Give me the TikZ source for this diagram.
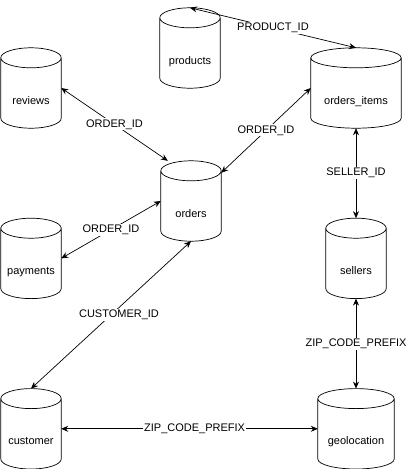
\documentclass[tikz,border=0pt]{standalone}
\usepackage{fontspec}
\setmainfont{Liberation Sans}
\usetikzlibrary{positioning, calc, arrows.meta}

\begin{document}
\begin{tikzpicture}[x=1pt, y=1pt, node distance=90pt,
    db/.style = {minimum width=60pt, minimum height=80pt, inner sep=0pt,
        text height=32pt, text depth=0pt, font=\fontsize{11pt}{13pt}\selectfont},
    link/.style = {{Stealth[length=7pt,width=6pt]}-{Stealth[length=7pt,width=6pt]}, line width=0.7pt},
    key/.style = {fill=white, inner sep=1pt, font=\fontsize{11pt}{13pt}\selectfont}]
    \useasboundingbox (0,0) rectangle (407,-469);
    \node[db] (orders_items) at (356,-88) [minimum width=90pt] {orders\_items};
    \node[db] (sellers) [below=of orders_items] {sellers};
    \node[db] (geolocation) [below=of sellers] [minimum width=76pt] {geolocation};
    \node[db] (reviews) at (31,-88) {reviews};
    \node[db] (payments) [below=of reviews] {payments};
    \node[db] (customer) [below=of payments] {customer};
    \node[db] (orders) at (191,-201) {orders};
    \node[db] (products) at (190,-48) {products};
    % cylinder outlines
    \foreach \nd in {products, orders_items, reviews, orders, payments, sellers, customer, geolocation}
        \draw[line width=0.7pt] let \p1 = (\nd.north west), \p2 = (\nd.south east), \n1 = {(\x2-\x1)/2} in
            (\x1,\y1-10pt) -- (\x1,\y2+10pt) arc[start angle=180, end angle=360, x radius=\n1, y radius=10pt]
            -- (\x2,\y1-10pt) arc[start angle=0, end angle=180, x radius=\n1, y radius=10pt]
            arc[start angle=180, end angle=360, x radius=\n1, y radius=10pt];
    \draw[link] (products.north) -- node[key] {PRODUCT\_ID} (orders_items.north);
    \draw[link] (reviews.east) -- node[key] {ORDER\_ID} (orders.120);
    \draw[link] (orders.43) -- node[key] {ORDER\_ID} (orders_items.west);
    \draw[link] (payments.east) -- node[key] {ORDER\_ID} (orders.west);
    \draw[link] (customer.north) -- node[key, xshift=8pt] {CUSTOMER\_ID} (orders.south);
    \draw[link] (orders_items.south) -- node[key] {SELLER\_ID} (sellers.north);
    \draw[link] (sellers.south) -- node[key] {ZIP\_CODE\_PREFIX} (geolocation.north);
    \draw[link] (customer.east) -- node[key, pos=0.52] {ZIP\_CODE\_PREFIX} (geolocation.west);
\end{tikzpicture}
\end{document}
